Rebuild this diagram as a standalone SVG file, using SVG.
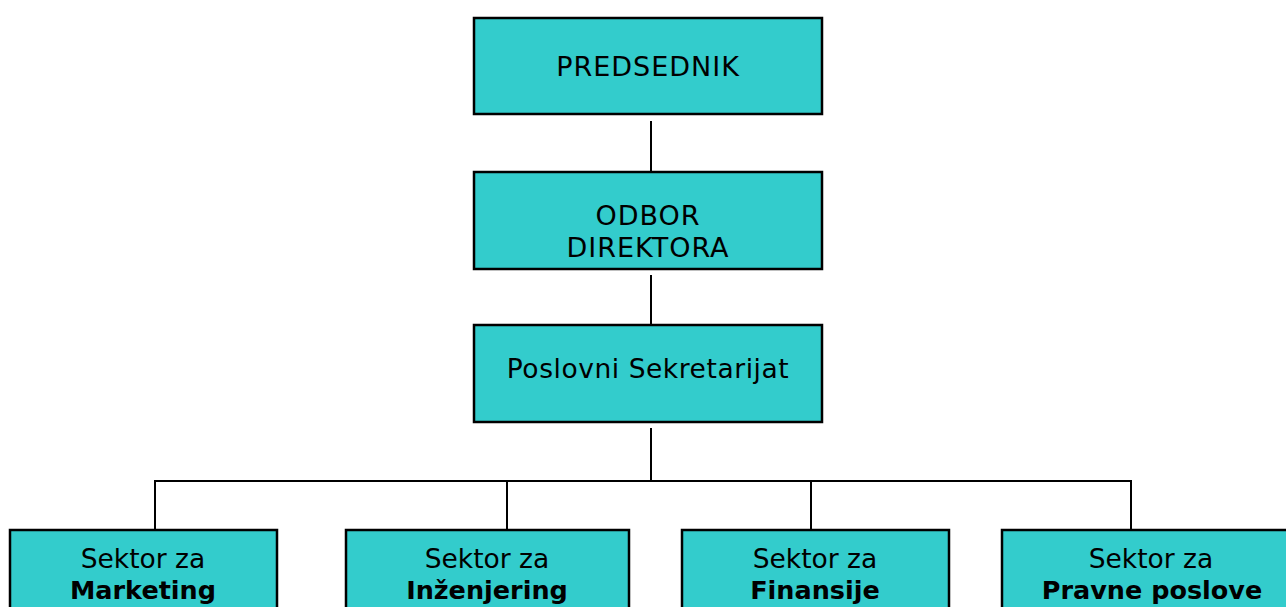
<svg xmlns="http://www.w3.org/2000/svg" width="1286" height="607" viewBox="0 0 1286 607">
<style>
.box{fill:#33CCCC;stroke:#000;stroke-width:2.5}
.t{font-family:"DejaVu Sans",Verdana,sans-serif;fill:#000;text-anchor:middle}
.cap{font-size:27px;letter-spacing:1px}
.low{font-size:26.5px}
.b{font-size:25.5px;font-weight:bold}
.c{stroke:#000;stroke-width:2;fill:none}
</style>
<rect x="0" y="0" width="1286" height="607" fill="#fff"/>
<g id="connectors">
<line class="c" x1="651" y1="121" x2="651" y2="173"/>
<line class="c" x1="651" y1="275" x2="651" y2="326"/>
<line class="c" x1="651" y1="428" x2="651" y2="481"/>
<polyline class="c" points="155,531 155,481 1131,481 1131,531"/>
<line class="c" x1="507" y1="481" x2="507" y2="531"/>
<line class="c" x1="811" y1="481" x2="811" y2="531"/>
</g>
<g id="predsednik">
<rect class="box" x="474" y="18" width="348" height="96"/>
<text class="t cap" x="648" y="76">PREDSEDNIK</text>
</g>
<g id="odbor">
<rect class="box" x="474" y="172" width="348" height="97"/>
<text class="t cap" x="648" y="225">ODBOR</text>
<text class="t cap" x="648" y="257">DIREKTORA</text>
</g>
<g id="sekretarijat">
<rect class="box" x="474" y="325" width="348" height="97"/>
<text class="t low" x="648" y="378" style="letter-spacing:0.55px">Poslovni Sekretarijat</text>
</g>
<g id="marketing">
<rect class="box" x="10" y="530" width="267" height="90"/>
<text class="t low" x="143" y="568">Sektor za</text>
<text class="t b" x="143" y="599">Marketing</text>
</g>
<g id="inzenjering">
<rect class="box" x="346" y="530" width="283" height="90"/>
<text class="t low" x="487" y="568">Sektor za</text>
<text class="t b" x="487" y="599">Inženjering</text>
</g>
<g id="finansije">
<rect class="box" x="682" y="530" width="267" height="90"/>
<text class="t low" x="815" y="568">Sektor za</text>
<text class="t b" x="815" y="599">Finansije</text>
</g>
<g id="pravne">
<rect class="box" x="1002" y="530" width="300" height="90"/>
<text class="t low" x="1151" y="568">Sektor za</text>
<text class="t b" x="1152" y="599">Pravne poslove</text>
</g>
</svg>
